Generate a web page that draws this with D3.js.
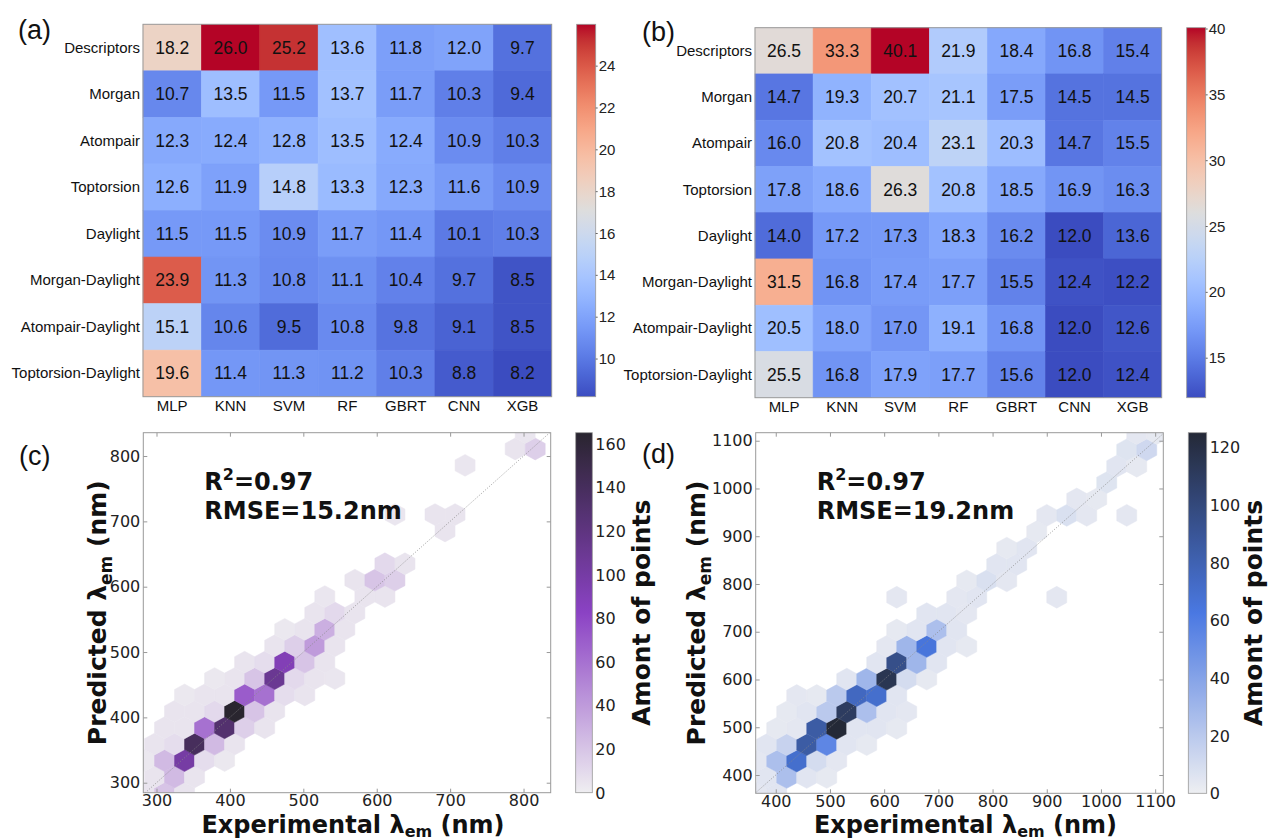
<!DOCTYPE html>
<html><head><meta charset="utf-8">
<script src="https://cdn.jsdelivr.net/npm/d3@7"></script>
<style>body{margin:0;background:#fff}svg{display:block}</style>
</head><body>
<svg id="chart" width="1268" height="840"></svg>
<script>
// ---------------- DATA ----------------
const models = ["MLP","KNN","SVM","RF","GBRT","CNN","XGB"];
const features = ["Descriptors","Morgan","Atompair","Toptorsion","Daylight","Morgan-Daylight","Atompair-Daylight","Toptorsion-Daylight"];
const rmseA = [
  [18.2,26.0,25.2,13.6,11.8,12.0,9.7],
  [10.7,13.5,11.5,13.7,11.7,10.3,9.4],
  [12.3,12.4,12.8,13.5,12.4,10.9,10.3],
  [12.6,11.9,14.8,13.3,12.3,11.6,10.9],
  [11.5,11.5,10.9,11.7,11.4,10.1,10.3],
  [23.9,11.3,10.8,11.1,10.4,9.7,8.5],
  [15.1,10.6,9.5,10.8,9.8,9.1,8.5],
  [19.6,11.4,11.3,11.2,10.3,8.8,8.2]
];
const rmseB = [
  [26.5,33.3,40.1,21.9,18.4,16.8,15.4],
  [14.7,19.3,20.7,21.1,17.5,14.5,14.5],
  [16.0,20.8,20.4,23.1,20.3,14.7,15.5],
  [17.8,18.6,26.3,20.8,18.5,16.9,16.3],
  [14.0,17.2,17.3,18.3,16.2,12.0,13.6],
  [31.5,16.8,17.4,17.7,15.5,12.4,12.2],
  [20.5,18.0,17.0,19.1,16.8,12.0,12.6],
  [25.5,16.8,17.9,17.7,15.6,12.0,12.4]
];
const rangeA = [8.2, 26.0];
const rangeB = [12.0, 40.1];
const cbTicksA = [10,12,14,16,18,20,22,24];
const cbTicksB = [15,20,25,30,35,40];

// hexbin cells: [experimental nm, predicted nm, count]
const hexC = [
  [283.6,283.7,5],[310.9,283.7,20],[338.2,283.7,5],
  [297.2,308.8,5],[324.5,308.8,25],[351.8,308.8,5],
  [283.6,333.9,3],[310.9,333.9,25],[338.2,333.9,100],[365.45,333.9,8],[392.75,333.9,3],
  [297.2,359.0,5],[324.5,359.0,8],[351.8,359.0,140],[379.1,359.0,25],[406.4,359.0,5],
  [310.9,384.1,5],[338.2,384.1,5],[365.45,384.1,60],[392.75,384.1,130],[420.05,384.1,15],[447.35,384.1,5],
  [324.5,409.2,5],[351.8,409.2,5],[379.1,409.2,10],[406.4,409.2,165],[433.7,409.2,20],[461.0,409.2,5],
  [338.2,434.3,3],[365.45,434.3,5],[392.75,434.3,5],[420.05,434.3,70],[447.35,434.3,60],[474.65,434.3,8],[501.95,434.3,5],
  [379.1,459.4,3],[406.4,459.4,5],[433.7,459.4,20],[461.0,459.4,110],[488.3,459.4,10],[515.6,459.4,5],[542.9,459.4,4],
  [420.05,484.5,5],[447.35,484.5,8],[474.65,484.5,90],[501.95,484.5,20],[529.25,484.5,5],
  [461.0,509.6,5],[488.3,509.6,15],[515.6,509.6,40],[542.9,509.6,5],
  [474.65,534.7,3],[501.95,534.7,5],[529.25,534.7,30],[556.55,534.7,5],
  [515.6,559.8,5],[542.9,559.8,10],[570.2,559.8,5],
  [529.25,584.9,4],[583.85,584.9,5],[611.15,584.9,5],
  [570.2,610.0,5],[597.5,610.0,20],[624.8,610.0,15],
  [611.15,635.1,10],[638.45,635.1,5],
  [693.05,685.3,5],
  [624.8,710.4,4],[679.4,710.4,5],[706.7,710.4,5],
  [720.35,785.7,4],
  [788.6,810.8,5],[815.9,810.8,15],
  [802.25,835.9,4]
];
const hexD = [
  [364.9,360.6,4],[401.8,360.6,5],
  [383.35,394.9,5],[420.25,394.9,25],[457.15,394.9,5],[494.05,394.9,3],
  [364.9,429.2,4],[401.8,429.2,25],[438.7,429.2,70],[475.6,429.2,10],[512.5,429.2,4],
  [383.35,463.5,5],[420.25,463.5,15],[457.15,463.5,85],[494.05,463.5,55],[530.95,463.5,5],[567.85,463.5,3],
  [401.8,497.8,3],[438.7,497.8,4],[475.6,497.8,85],[512.5,497.8,125],[549.4,497.8,5],[586.3,497.8,5],[623.2,497.8,3],
  [420.25,532.1,3],[457.15,532.1,5],[494.05,532.1,20],[530.95,532.1,110],[567.85,532.1,25],[604.75,532.1,5],[641.65,532.1,4],
  [438.7,566.4,4],[475.6,566.4,3],[512.5,566.4,20],[549.4,566.4,75],[586.3,566.4,70],[623.2,566.4,5],
  [530.95,600.7,5],[567.85,600.7,30],[604.75,600.7,115],[641.65,600.7,10],[678.55,600.7,3],
  [586.3,635.0,5],[623.2,635.0,95],[660.1,635.0,30],[697.0,635.0,5],
  [604.75,669.3,4],[641.65,669.3,30],[678.55,669.3,65],[715.45,669.3,5],[752.35,669.3,3],
  [623.2,703.6,3],[660.1,703.6,5],[697.0,703.6,25],[733.9,703.6,5],
  [678.55,737.9,5],[715.45,737.9,5],[752.35,737.9,4],
  [623.2,772.2,4],[733.9,772.2,4],[770.8,772.2,5],[918.4,772.2,4],
  [752.35,806.5,3],[789.25,806.5,8],[826.15,806.5,4],
  [807.7,840.8,5],[844.6,840.8,5],
  [826.15,875.1,3],[863.05,875.1,5],
  [881.5,909.4,3],
  [899.95,943.7,4],[936.85,943.7,8],[973.75,943.7,4],[1047.55,943.7,4],
  [955.3,978.0,4],[992.2,978.0,3],
  [1010.65,1012.3,6],
  [1029.1,1046.6,5],[1066.0,1046.6,3],
  [1047.55,1080.9,6],[1084.45,1080.9,12],
  [1066.0,1115.2,4],[1102.9,1115.2,3]
];
const domainC = [282, 837], domainCy = [284.7, 835.7];
const domainD = [363, 1115], domainDy = [361.7, 1116.8];
const ticksC = [300,400,500,600,700,800];
const ticksD = [400,500,600,700,800,900,1000,1100];
const countRangeC = [0,165], countRangeD = [0,125];
const cbTicksC = [0,20,40,60,80,100,120,140,160];
const cbTicksD = [0,20,40,60,80,100,120];

// ---------------- COLORMAPS ----------------
const cw = [[59,76,192],[68,90,204],[77,104,215],[87,117,225],[98,130,234],[108,142,241],[119,154,247],[130,165,251],[141,176,254],[152,185,255],[163,194,255],[174,201,253],[184,208,249],[194,213,244],[204,217,238],[213,219,230],[221,221,221],[229,216,209],[236,211,197],[241,204,185],[245,196,173],[247,187,160],[247,177,148],[247,166,135],[244,154,123],[241,141,111],[236,127,99],[229,112,88],[222,96,77],[213,80,66],[203,62,56],[192,40,47],[180,4,38]];
const coolwarm = d3.scaleLinear().domain(cw.map((d,i)=>i/(cw.length-1)))
  .range(cw.map(c=>`rgb(${c[0]},${c[1]},${c[2]})`)).interpolate(d3.interpolateRgb).clamp(true);
const purples = d3.scaleLinear().domain([0,0.5,1]).range(["#efeef1","#8b42c4","#29252f"]).clamp(true);
const blues = d3.scaleLinear().domain([0,0.5,1]).range(["#eeeff2","#4a78e2","#242937"]).clamp(true);

const svg = d3.select("#chart");
const defs = svg.append("defs");
let gradId = 0;
function gradient(cmap){
  const id = "g"+(gradId++);
  const lg = defs.append("linearGradient").attr("id",id).attr("x1",0).attr("y1",1).attr("x2",0).attr("y2",0);
  d3.range(0,1.0001,0.02).forEach(t=>lg.append("stop").attr("offset",t).attr("stop-color",cmap(t)));
  return id;
}

// ---------------- HEATMAPS ----------------
function heatmap(values, vr, box, cb, ticks, label, labelPos){
  const g = svg.append("g").style("font-family","'Liberation Sans', Arial, sans-serif");
  const x = d3.scaleBand().domain(models).range([box.x0, box.x1]);
  const y = d3.scaleBand().domain(features).range([box.y0, box.y1]);
  const norm = d3.scaleLinear().domain(vr).range([0,1]);
  const cells = [];
  features.forEach((f,i)=>models.forEach((m,j)=>cells.push({f,m,v:values[i][j]})));
  g.selectAll("rect.cell").data(cells).join("rect")
    .attr("x",d=>x(d.m)).attr("y",d=>y(d.f))
    .attr("width",x.bandwidth()).attr("height",y.bandwidth())
    .attr("fill",d=>coolwarm(norm(d.v))).attr("stroke",d=>coolwarm(norm(d.v))).attr("stroke-width",0.6);
  g.selectAll("text.val").data(cells).join("text")
    .attr("x",d=>x(d.m)+x.bandwidth()/2).attr("y",d=>y(d.f)+y.bandwidth()/2+6)
    .attr("text-anchor","middle").attr("font-size",17.5).attr("fill","#111")
    .text(d=>d3.format(".1f")(d.v));
  g.append("rect").attr("x",box.x0).attr("y",box.y0).attr("width",box.x1-box.x0).attr("height",box.y1-box.y0)
    .attr("fill","none").attr("stroke","#999").attr("stroke-width",1);
  g.selectAll("text.row").data(features).join("text")
    .attr("x",box.x0-3).attr("y",d=>y(d)+y.bandwidth()/2+5)
    .attr("text-anchor","end").attr("font-size",15).attr("fill","#111").text(d=>d);
  g.selectAll("text.col").data(models).join("text")
    .attr("x",d=>x(d)+x.bandwidth()/2).attr("y",box.y1+14)
    .attr("text-anchor","middle").attr("font-size",15).attr("fill","#111").text(d=>d);
  // colorbar
  const id = gradient(coolwarm);
  g.append("rect").attr("x",cb.x0).attr("y",box.y0).attr("width",cb.x1-cb.x0).attr("height",box.y1-box.y0)
    .attr("fill",`url(#${id})`).attr("stroke","#999").attr("stroke-width",0.8);
  const cy = d3.scaleLinear().domain(vr).range([box.y1, box.y0]);
  g.selectAll("text.cbt").data(ticks).join("text")
    .attr("x",cb.x1+3).attr("y",d=>cy(d)+5).attr("font-size",15).attr("fill","#222").text(d=>d);
  g.selectAll("line.cbt").data(ticks).join("line")
    .attr("x1",cb.x1).attr("x2",cb.x1+2).attr("y1",d=>cy(d)).attr("y2",d=>cy(d)).attr("stroke","#666");
  svg.append("text").attr("x",labelPos[0]).attr("y",labelPos[1]).attr("font-size",27)
    .style("font-family","'Liberation Sans', Arial, sans-serif").attr("fill","#111").text(label);
}
heatmap(rmseA, rangeA, {x0:143,x1:551.7,y0:24.3,y1:396.7}, {x0:576.7,x1:595.7}, cbTicksA, "(a)", [18,39]);
heatmap(rmseB, rangeB, {x0:755,x1:1161.7,y0:27.7,y1:397.7}, {x0:1186.7,x1:1205.7}, cbTicksB, "(b)", [642,41]);

// ---------------- HEXBINS ----------------
function hexbin(cells, xd, yd, box, hexW, hexH, ticks, cmap, crange, cbBox, cbTicks, stats, label, labelPos, yTitleX, cbTitleX){
  const g = svg.append("g").style("font-family","'DejaVu Sans', sans-serif");
  const x = d3.scaleLinear().domain(xd).range([box.x0, box.x1]);
  const y = d3.scaleLinear().domain(yd).range([box.y1, box.y0]);
  const c = d3.scaleLinear().domain(crange).range([0,1]);
  const clipId = "clip"+(gradId++);
  defs.append("clipPath").attr("id",clipId).append("rect")
    .attr("x",box.x0).attr("y",box.y0).attr("width",box.x1-box.x0).attr("height",box.y1-box.y0);
  const hexPath = d => {
    const [cx,cy] = d;
    const pts = [[cx+hexW/2,cy-hexH/6],[cx+hexW/2,cy+hexH/6],[cx,cy+hexH/3],[cx-hexW/2,cy+hexH/6],[cx-hexW/2,cy-hexH/6],[cx,cy-hexH/3]];
    return "M"+pts.map(p=>x(p[0])+","+y(p[1])).join("L")+"Z";
  };
  const pg = g.append("g").attr("clip-path",`url(#${clipId})`);
  pg.selectAll("path.hex").data(cells).join("path")
    .attr("d",hexPath).attr("fill",d=>cmap(c(d[2]))).attr("stroke",d=>cmap(c(d[2]))).attr("stroke-width",0.5);
  const lo = Math.max(xd[0],yd[0]), hi = Math.min(xd[1],yd[1]);
  pg.append("line").attr("x1",x(lo)).attr("y1",y(lo)).attr("x2",x(hi)).attr("y2",y(hi))
    .attr("stroke","#888").attr("stroke-width",0.8).attr("stroke-dasharray","1,1.6");
  // axes
  const fmt = d3.format("d");
  const ax = g.append("g").attr("transform",`translate(0,${box.y1})`)
    .call(d3.axisBottom(x).tickValues(ticks).tickFormat(fmt).tickSize(-4).tickPadding(2));
  const ay = g.append("g").attr("transform",`translate(${box.x0},0)`)
    .call(d3.axisLeft(y).tickValues(ticks).tickFormat(fmt).tickSize(-4).tickPadding(3));
  const at = g.append("g").attr("transform",`translate(0,${box.y0})`)
    .call(d3.axisTop(x).tickValues(ticks).tickFormat("").tickSize(-4));
  const ar = g.append("g").attr("transform",`translate(${box.x1},0)`)
    .call(d3.axisRight(y).tickValues(ticks).tickFormat("").tickSize(-4));
  [ax,ay,at,ar].forEach(a=>{
    a.select(".domain").remove();
    a.selectAll("line").attr("stroke","#999");
    a.selectAll("text").attr("font-size",16).attr("fill","#222").style("font-family","'DejaVu Sans', sans-serif");
  });
  g.append("rect").attr("x",box.x0).attr("y",box.y0).attr("width",box.x1-box.x0).attr("height",box.y1-box.y0)
    .attr("fill","none").attr("stroke","#999").attr("stroke-width",1);
  // titles
  const xt = g.append("text").attr("x",(box.x0+box.x1)/2+6).attr("y",833).attr("text-anchor","middle")
    .attr("font-size",24).attr("font-weight","bold").attr("fill","#111");
  xt.append("tspan").text("Experimental \u03bb");
  xt.append("tspan").attr("font-size",16).attr("dy",4).text("em");
  xt.append("tspan").attr("dy",-4).text(" (nm)");
  const yt = g.append("text").attr("transform",`translate(${yTitleX},${(box.y0+box.y1)/2})rotate(-90)`)
    .attr("text-anchor","middle").attr("font-size",25).attr("font-weight","bold").attr("fill","#111");
  yt.append("tspan").text("Predicted \u03bb");
  yt.append("tspan").attr("font-size",17).attr("dy",6).text("em");
  yt.append("tspan").attr("dy",-6).text(" (nm)");
  // stats
  const s1 = g.append("text").attr("x",box.x0+61).attr("y",490).attr("font-size",24).attr("font-weight","bold").attr("fill","#111");
  s1.append("tspan").text("R");
  s1.append("tspan").attr("font-size",16).attr("dy",-10).text("2");
  s1.append("tspan").attr("dy",10).text("=" + stats[0]);
  g.append("text").attr("x",box.x0+61).attr("y",519).attr("font-size",24).attr("font-weight","bold").attr("fill","#111")
    .text("RMSE=" + stats[1] + "nm");
  // colorbar
  const id = gradient(cmap);
  g.append("rect").attr("x",cbBox.x0).attr("y",box.y0).attr("width",cbBox.x1-cbBox.x0).attr("height",box.y1-box.y0)
    .attr("fill",`url(#${id})`).attr("stroke","#999").attr("stroke-width",0.8);
  const cy = d3.scaleLinear().domain(crange).range([box.y1, box.y0]);
  g.selectAll("text.cbt").data(cbTicks).join("text")
    .attr("x",cbBox.x1+3).attr("y",d=>cy(d)+6).attr("font-size",16).attr("fill","#222").text(d=>d);
  g.append("text").attr("transform",`translate(${cbTitleX},${(box.y0+box.y1)/2})rotate(-90)`)
    .attr("text-anchor","middle").attr("font-size",25).attr("font-weight","bold").attr("fill","#111").text("Amont of points");
  svg.append("text").attr("x",labelPos[0]).attr("y",labelPos[1]).attr("font-size",27)
    .style("font-family","'Liberation Sans', Arial, sans-serif").attr("fill","#111").text(label);
}
hexbin(hexC, domainC, domainCy, {x0:143.3,x1:550.7,y0:432.7,y1:792.7}, 27.3, 50.2, ticksC, purples, countRangeC,
  {x0:575.7,x1:592.3}, cbTicksC, ["0.97","15.2"], "(c)", [19,465], 106, 650);
hexbin(hexD, domainD, domainDy, {x0:755.7,x1:1163.3,y0:432.7,y1:793.3}, 36.9, 68.6, ticksD, blues, countRangeD,
  {x0:1188.3,x1:1206.7}, cbTicksD, ["0.97","19.2"], "(d)", [642,463], 705, 1262);
</script>
</body></html>
